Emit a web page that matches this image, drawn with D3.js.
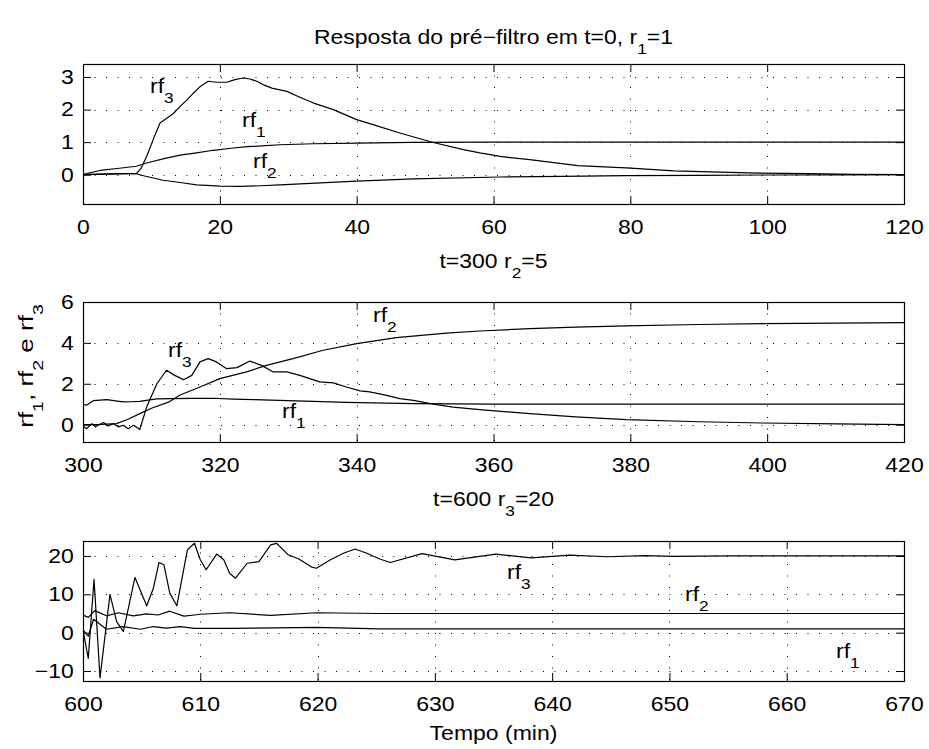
<!DOCTYPE html>
<html>
<head>
<meta charset="utf-8">
<script src="https://cdn.jsdelivr.net/npm/d3@7"></script>
<style>
body { margin: 0; background: #fff; }
text { font-family: "Liberation Sans", Arial, Helvetica, sans-serif; fill: #000; }
</style>
</head>
<body>
<svg id="fig" width="929" height="749"></svg>
<script>
// ---- data ----
// panel 1 : t = 0..120
var p1XTicks = [0, 20, 40, 60, 80, 100, 120];
var p1YTicks = [0, 1, 2, 3];
var p1T_rf1 = [0, 1, 2.5, 5, 7.8, 9.3, 12, 14.2, 16.6, 19, 22, 24, 28.8, 33.7, 40, 48, 60, 80, 120];
var p1V_rf1 = [0, 0.06, 0.13, 0.19, 0.26, 0.36, 0.5, 0.6, 0.67, 0.75, 0.82, 0.86, 0.92, 0.95, 0.97, 0.99, 1.0, 1.0, 1.0];
var p1T_rf2 = [0, 3, 6, 7.8, 9, 11.7, 14.2, 16.6, 18.1, 20, 23, 26, 28.8, 34, 40, 48.3, 61, 70, 79.4, 90, 99, 110, 120];
var p1V_rf2 = [0, 0.02, 0.03, 0.03, -0.04, -0.17, -0.24, -0.31, -0.33, -0.35, -0.36, -0.34, -0.31, -0.26, -0.2, -0.13, -0.07, -0.05, -0.03, -0.02, -0.01, -0.005, 0];
var p1T_rf3 = [0, 3, 6, 7.8, 8.5, 9.3, 10.3, 11.25, 12.3, 13.2, 14.2, 15.2, 16.1, 17.2, 18.3, 19.5, 21, 22.2, 23.4, 24.4, 25.4, 26.5, 27.6, 29.8, 31.7, 33.7, 36.6, 40, 42.4, 46.3, 51.2, 55.6, 58, 61, 65.3, 72.3, 79.4, 86.4, 93, 99, 106, 113, 120];
var p1V_rf3 = [0, 0.02, 0.03, 0.03, 0.2, 0.56, 1.1, 1.59, 1.74, 1.88, 2.1, 2.3, 2.5, 2.72, 2.87, 2.84, 2.84, 2.92, 2.97, 2.94, 2.87, 2.75, 2.66, 2.56, 2.38, 2.2, 2.0, 1.69, 1.54, 1.28, 0.99, 0.77, 0.67, 0.56, 0.46, 0.28, 0.21, 0.12, 0.08, 0.05, 0.03, 0.01, 0];

// panel 2 : t = 300..420
var p2XTicks = [300, 320, 340, 360, 380, 400, 420];
var p2YTicks = [0, 2, 4, 6];
var p2T_rf1 = [300, 300.5, 301.5, 302.5, 303.5, 305, 305.9, 307, 308.3, 309.5, 310.8, 313, 316, 319, 322, 325, 330, 338.5, 348.3, 360, 380, 420];
var p2V_rf1 = [1.0, 0.95, 1.17, 1.2, 1.22, 1.15, 1.11, 1.12, 1.14, 1.2, 1.26, 1.27, 1.28, 1.29, 1.25, 1.22, 1.17, 1.09, 1.03, 1.0, 1.0, 1.0];
var p2T_rf2 = [300, 302, 304.9, 306.5, 308.3, 310, 312.5, 314.2, 317.1, 320, 323.9, 326.8, 330.7, 335.1, 340, 345.8, 353.1, 358, 365.3, 372, 379.4, 390, 399.4, 410, 420];
var p2V_rf2 = [0, 0, 0.05, 0.25, 0.54, 0.8, 1.1, 1.45, 1.84, 2.25, 2.58, 2.9, 3.23, 3.64, 3.96, 4.26, 4.48, 4.58, 4.7, 4.77, 4.83, 4.9, 4.94, 4.97, 4.99];
var p2T_rf3 = [300, 300.5, 301.3, 301.8, 302.2, 303, 303.7, 304.4, 305.2, 305.9, 306.6, 307.4, 308.3, 309.3, 310.8, 312.2, 313.4, 314.7, 315.9, 317.1, 318.3, 319.5, 321, 322.5, 324.4, 326.1, 327.8, 329.8, 331.7, 334.6, 336.6, 338.5, 340.5, 341.9, 344.4, 346.3, 348.3, 351.2, 354.1, 358, 365.3, 372, 379.4, 390, 399.4, 410, 420];
var p2V_rf3 = [-0.07, -0.2, 0.05, -0.11, -0.03, 0.1, -0.07, 0.05, -0.11, -0.03, -0.2, -0.03, -0.24, 0.86, 2.0, 2.66, 2.41, 2.2, 2.41, 3.07, 3.23, 3.07, 2.74, 2.79, 3.11, 2.9, 2.58, 2.58, 2.41, 2.09, 2.04, 1.84, 1.65, 1.6, 1.43, 1.27, 1.19, 1.0, 0.86, 0.73, 0.54, 0.38, 0.24, 0.14, 0.08, 0.04, 0];

// panel 3 : t = 600..670
var p3XTicks = [600, 610, 620, 630, 640, 650, 660, 670];
var p3YTicks = [-10, 0, 10, 20];
var p3T_rf1 = [600, 600.45, 600.9, 602, 603.4, 604.9, 606, 607.1, 608.3, 609.5, 612.5, 619.9, 625.3, 670];
var p3V_rf1 = [0.7, -0.9, 3.5, 0.9, 1.6, 0.9, 1.6, 1.2, 1.6, 1.1, 1.1, 1.4, 1.0, 1.0];
var p3T_rf2 = [600, 600.45, 601, 602, 603, 604.3, 605.4, 606.4, 607.4, 608.6, 609.5, 610, 612.5, 616, 619.9, 625.3, 635, 670];
var p3V_rf2 = [4.6, 4.0, 5.75, 4.4, 5.2, 4.4, 4.9, 4.6, 5.6, 4.3, 4.6, 4.8, 5.2, 4.5, 5.2, 5.0, 5.0, 5.0];
var p3T_rf3 = [600, 600.45, 600.94, 601.45, 602.3, 602.87, 603.44, 604.43, 605.43, 606, 606.48, 606.9, 607.4, 608, 608.9, 609.5, 610, 610.5, 611.4, 612, 612.5, 613, 614, 615, 616, 616.5, 617.5, 618.4, 619.5, 619.9, 621.1, 622.2, 623.2, 624.2, 625.3, 626.2, 628.9, 631.7, 635.2, 638.2, 641.5, 644.7, 647.9, 650.5, 655, 660, 670];
var p3V_rf3 = [0.7, -6.7, 13.9, -11.8, 10, 2.9, 0.3, 14.4, 7.0, 11.6, 18.3, 17.7, 10.3, 7.0, 21.6, 23.3, 19.0, 16.4, 20.5, 19.0, 15.5, 14.2, 18.1, 18.5, 22.9, 23.3, 20.3, 19.2, 17.1, 16.8, 19.0, 20.7, 21.8, 20.7, 19.2, 18.3, 20.6, 19.0, 20.5, 19.5, 20.2, 19.8, 20.1, 19.9, 20, 20, 20];

// ---- layout ----
var left = 83, right = 904;
var FS = 20, SFS = 15, SUBDY = 10, SX = 1.15;

var svg = d3.select('#fig');

// text with "_x" parts as subscripts
function richText(parent, x, y, parts, anchor, rotate) {
	var t = parent.append('text')
		.attr('transform', 'translate(' + x + ',' + y + ')' + (rotate ? ' rotate(-90) scale(1.3,1.02)' : ' scale(' + SX + ',1)'))
		.attr('text-anchor', anchor || 'start')
		.style('font-size', FS + 'px');
	var down = false;
	parts.forEach(function(p) {
		var sub = p.charAt(0) === '_';
		var ts = t.append('tspan').text(sub ? p.slice(1) : p);
		if (sub) {
			ts.attr('dy', SUBDY).style('font-size', SFS + 'px');
			down = true;
		} else if (down) {
			ts.attr('dy', -SUBDY);
			down = false;
		}
	});
	return t;
}

var panels = [
	{ top: 64, bottom: 204, xDom: [0, 120], yDom: [-0.9, 3.4], xTicks: p1XTicks, yTicks: p1YTicks,
	  series: [[p1T_rf1, p1V_rf1], [p1T_rf2, p1V_rf2], [p1T_rf3, p1V_rf3]],
	  labels: [[150, 93, '3'], [242, 127, '1'], [253, 168, '2']] },
	{ top: 302, bottom: 442, xDom: [300, 420], yDom: [-0.85, 6], xTicks: p2XTicks, yTicks: p2YTicks,
	  series: [[p2T_rf1, p2V_rf1], [p2T_rf2, p2V_rf2], [p2T_rf3, p2V_rf3]],
	  labels: [[373, 322, '2'], [168, 357, '3'], [282, 418, '1']] },
	{ top: 541, bottom: 681, xDom: [600, 670], yDom: [-12.6, 23.9], xTicks: p3XTicks, yTicks: p3YTicks,
	  series: [[p3T_rf1, p3V_rf1], [p3T_rf2, p3V_rf2], [p3T_rf3, p3V_rf3]],
	  labels: [[507, 579, '3'], [685, 601, '2'], [836, 658, '1']] }
];

panels.forEach(function(p, k) {
	var x = d3.scaleLinear().domain(p.xDom).range([left, right]);
	var y = d3.scaleLinear().domain(p.yDom).range([p.bottom, p.top]);
	var g = svg.append('g');

	g.append('clipPath').attr('id', 'clip' + k)
		.append('rect').attr('x', left).attr('y', p.top)
		.attr('width', right - left).attr('height', p.bottom - p.top);

	// dotted grid
	var grid = g.append('g').attr('stroke', '#000').attr('stroke-width', 1)
		.attr('stroke-dasharray', '1,10.5');
	grid.selectAll('.gx').data(p.xTicks.filter(function(d) { return d > p.xDom[0] && d < p.xDom[1]; }))
		.enter().append('line')
		.attr('x1', function(d) { return Math.round(x(d)) + 0.5; })
		.attr('x2', function(d) { return Math.round(x(d)) + 0.5; })
		.attr('y1', p.top).attr('y2', p.bottom);
	grid.selectAll('.gy').data(p.yTicks.filter(function(d) { return d > p.yDom[0] && d < p.yDom[1]; }))
		.enter().append('line')
		.attr('y1', function(d) { return Math.round(y(d)) + 0.5; })
		.attr('y2', function(d) { return Math.round(y(d)) + 0.5; })
		.attr('x1', left).attr('x2', right);

	// curves
	var line = d3.line()
		.x(function(d) { return x(d[0]); })
		.y(function(d) { return y(d[1]); });
	g.append('g').attr('clip-path', 'url(#clip' + k + ')')
		.selectAll('path').data(p.series).enter().append('path')
		.attr('d', function(s) { return line(s[0].map(function(t, i) { return [t, s[1][i]]; })); })
		.attr('fill', 'none').attr('stroke', '#000').attr('stroke-width', 1.2)
		.attr('stroke-linejoin', 'round');

	// axes, ticks pointing inward like matlab
	var bx = g.append('g').attr('transform', 'translate(0,' + p.bottom + ')')
		.call(d3.axisBottom(x).tickValues(p.xTicks).tickSizeInner(-8).tickSizeOuter(0).tickPadding(16));
	var tx = g.append('g').attr('transform', 'translate(0,' + p.top + ')')
		.call(d3.axisTop(x).tickValues(p.xTicks).tickSizeInner(-8).tickSizeOuter(0).tickFormat(''));
	var ly = g.append('g').attr('transform', 'translate(' + left + ',0)')
		.call(d3.axisLeft(y).tickValues(p.yTicks).tickSizeInner(-8).tickSizeOuter(0).tickPadding(8)
			.tickFormat(function(d) { return d < 0 ? '\u2212' + Math.abs(d) : d; }));
	var ry = g.append('g').attr('transform', 'translate(' + right + ',0)')
		.call(d3.axisRight(y).tickValues(p.yTicks).tickSizeInner(-8).tickSizeOuter(0).tickFormat(''));

	[bx, tx, ly, ry].forEach(function(a) {
		a.select('.domain').remove();
		a.selectAll('line').attr('stroke', '#000');
		a.selectAll('text')
			.attr('font-family', null)
			.style('font-size', FS + 'px')
			.attr('transform', 'scale(' + SX + ',1)');
	});

	// box
	g.append('rect').attr('x', left + 0.5).attr('y', p.top + 0.5)
		.attr('width', right - left).attr('height', p.bottom - p.top)
		.attr('fill', 'none').attr('stroke', '#000').attr('stroke-width', 1.2);

	// curve names
	p.labels.forEach(function(l) {
		richText(g, l[0], l[1], ['rf', '_' + l[2]]);
	});
});

// titles and axis labels
var mid = (left + right) / 2;
richText(svg, mid, 44, ['Resposta do pr\u00e9\u2212filtro em t=0, r', '_1', '=1'], 'middle');
richText(svg, mid, 268, ['t=300 r', '_2', '=5'], 'middle');
richText(svg, mid, 506, ['t=600 r', '_3', '=20'], 'middle');
richText(svg, mid, 740, ['Tempo (min)'], 'middle');
richText(svg, 33, 366, ['rf', '_1', ', rf', '_2', ' e rf', '_3'], 'middle', true);
</script>
</body>
</html>
